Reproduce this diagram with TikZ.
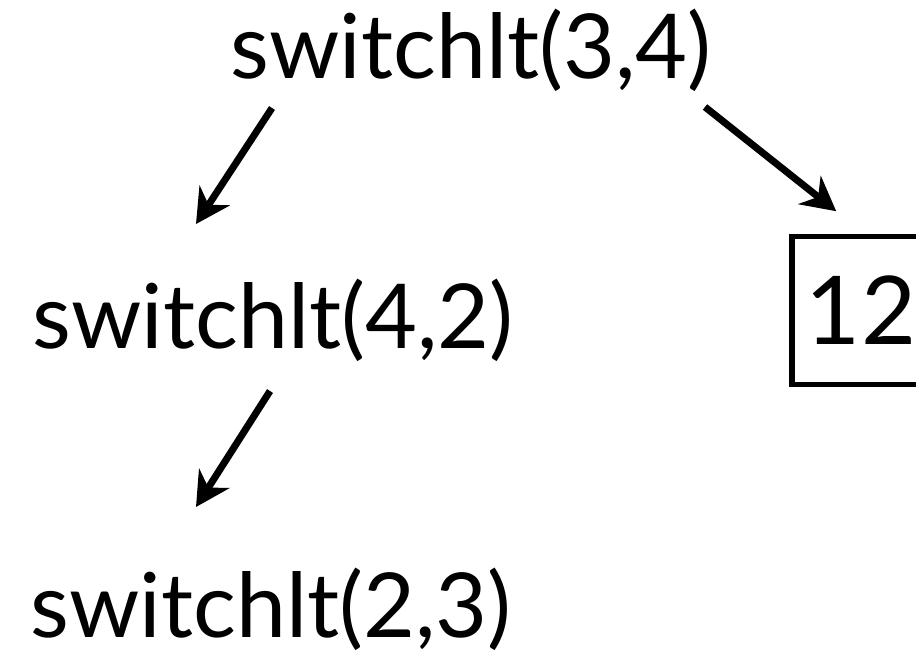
\documentclass[tikz,border=0pt]{standalone}
\usepackage{fontspec}
\setmainfont{Lato}
\usetikzlibrary{arrows.meta}

\begin{document}
\begin{tikzpicture}[
		call/.style={font=\fontsize{25.5}{30}\selectfont, inner sep=0pt, anchor=base west},
		leaf/.style={draw, line width=1.6pt, font=\fontsize{27}{32}\selectfont,
			minimum width=1.38cm, minimum height=1.48cm, inner sep=0pt},
		arr/.style={-{Stealth[length=3.4mm, width=3.6mm]}, line width=2pt}
		]
		
		\useasboundingbox (0,0) rectangle (9.16,6.57);
		
		%% the three calls, one under the other
		\node[call] (c34) at (2.30, 5.79) {switchlt(3,4)};
		\node[call] (c42) at (0.32, 3.09) {switchlt(4,2)};
		\node[call] (c23) at (0.30, 0.20) {switchlt(2,3)};
		
		%% boxed result on the right
		\node[leaf] (res) at (8.61, 3.465) {12};
		
		%% ── arrows ─────────────────────────────────────────────
		\draw[arr] ([shift={(0.42,-0.30)}]c34.base west)
		-- ([shift={(1.64,1.24)}]c42.base west);
		\draw[arr] ([shift={(2.38,-0.43)}]c42.base west)
		-- ([shift={(1.66,1.30)}]c23.base west);
		\draw[arr] ([shift={(4.75,-0.29)}]c34.base west)
		-- ([shift={(0.47,0.225)}]res.north west);
		
	\end{tikzpicture}
\end{document}
